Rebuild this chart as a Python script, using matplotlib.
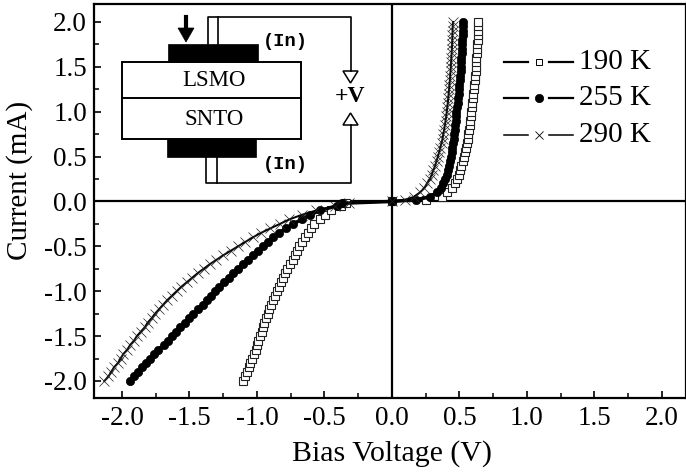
import matplotlib
matplotlib.use('Agg')
import matplotlib.pyplot as plt
from matplotlib.patches import Rectangle, Polygon

plt.rcParams['font.family'] = ['Liberation Serif', 'DejaVu Serif']
plt.rcParams['axes.unicode_minus'] = False

# current levels (mA), same for all three temperatures
current = [-2.0, -1.95, -1.9, -1.85, -1.8, -1.75, -1.7, -1.65, -1.6, -1.55, -1.5, -1.45, -1.4, -1.35,
           -1.3, -1.25, -1.2, -1.15, -1.1, -1.05, -1.0, -0.95, -0.9, -0.85, -0.8, -0.75, -0.7, -0.65,
           -0.6, -0.55, -0.5, -0.45, -0.4, -0.35, -0.3, -0.25, -0.2, -0.15, -0.1, -0.05, -0.02, 0.0,
           0.02, 0.05, 0.1, 0.15, 0.2, 0.25, 0.3, 0.35, 0.4, 0.45, 0.5, 0.55, 0.6, 0.65, 0.7, 0.75,
           0.8, 0.85, 0.9, 0.95, 1.0, 1.05, 1.1, 1.15, 1.2, 1.25, 1.3, 1.35, 1.4, 1.45, 1.5, 1.55,
           1.6, 1.65, 1.7, 1.75, 1.8, 1.85, 1.9, 1.95, 2.0]

v_190 = [-1.10, -1.09, -1.075, -1.06, -1.05, -1.035, -1.025, -1.01, -1.0, -0.99, -0.975, -0.965, -0.955, -0.945,
         -0.93, -0.92, -0.91, -0.895, -0.88, -0.87, -0.855, -0.84, -0.825, -0.81, -0.795, -0.775, -0.755, -0.735,
         -0.715, -0.70, -0.685, -0.665, -0.645, -0.625, -0.60, -0.575, -0.535, -0.495, -0.45, -0.38, -0.34, 0.0,
         0.25, 0.37, 0.41, 0.445, 0.465, 0.485, 0.497, 0.505, 0.515, 0.525, 0.532, 0.54, 0.548, 0.555, 0.56, 0.565,
         0.57, 0.575, 0.58, 0.585, 0.588, 0.592, 0.596, 0.6, 0.603, 0.607, 0.61, 0.613, 0.616, 0.619, 0.621, 0.624,
         0.626, 0.628, 0.63, 0.632, 0.634, 0.636, 0.638, 0.639, 0.641]
v_255 = [-1.94, -1.91, -1.88, -1.85, -1.82, -1.79, -1.76, -1.73, -1.69, -1.66, -1.63, -1.60, -1.57, -1.535,
         -1.50, -1.47, -1.435, -1.40, -1.37, -1.34, -1.31, -1.28, -1.245, -1.21, -1.175, -1.14, -1.10, -1.07,
         -1.03, -0.99, -0.955, -0.92, -0.88, -0.835, -0.785, -0.73, -0.67, -0.61, -0.53, -0.41, -0.37, 0.0,
         0.18, 0.28, 0.33, 0.36, 0.38, 0.395, 0.405, 0.415, 0.423, 0.43, 0.436, 0.442, 0.447, 0.452, 0.456, 0.46,
         0.464, 0.467, 0.471, 0.474, 0.477, 0.483, 0.487, 0.49, 0.494, 0.497, 0.5, 0.503, 0.505, 0.508, 0.51, 0.512,
         0.514, 0.516, 0.518, 0.52, 0.522, 0.523, 0.525, 0.526, 0.528]
v_290 = [-2.13, -2.10, -2.08, -2.06, -2.03, -2.01, -1.99, -1.96, -1.94, -1.91, -1.89, -1.86, -1.83, -1.81,
         -1.78, -1.755, -1.725, -1.695, -1.665, -1.63, -1.595, -1.56, -1.52, -1.48, -1.44, -1.395, -1.35, -1.30,
         -1.25, -1.195, -1.14, -1.085, -1.03, -0.97, -0.90, -0.83, -0.76, -0.67, -0.56, -0.42, -0.32, 0.0,
         0.10, 0.16, 0.207, 0.24, 0.26, 0.28, 0.295, 0.307, 0.32, 0.33, 0.34, 0.35, 0.358, 0.367, 0.375, 0.38,
         0.387, 0.392, 0.397, 0.402, 0.406, 0.41, 0.414, 0.417, 0.42, 0.423, 0.426, 0.429, 0.431, 0.434, 0.436, 0.438,
         0.44, 0.442, 0.444, 0.445, 0.447, 0.448, 0.449, 0.45, 0.452]

labels = ['190 K', '255 K', '290 K']
ticks = [-2.0, -1.5, -1.0, -0.5, 0.0, 0.5, 1.0, 1.5, 2.0]
minor = [-1.75, -1.25, -0.75, -0.25, 0.25, 0.75, 1.25, 1.75]

W, H = 686, 473
fig = plt.figure(figsize=(W/100, H/100), dpi=100)
ax = fig.add_axes([94/W, 1-398/H, 592/W, 394/H])

ax.plot(v_190, current, color='k', lw=0.8, ls='none', marker='s', ms=5.5, mfc='white', mec='#222222', mew=0.8)
ax.plot(v_255, current, color='k', lw=2.5, marker='o', ms=6, mfc='k', mec='k', mew=0.5)
ax.plot(v_290, current, color='k', lw=1.4, marker='x', ms=7, mec='#222222', mew=0.5)

ax.axhline(0, color='k', lw=1.6, zorder=1)
ax.axvline(0, color='k', lw=1.6, zorder=1)

ax.set_xlim(-2.207, 2.178)
ax.set_ylim(-2.19, 2.2)
ax.set_xticks(ticks)
ax.set_yticks(ticks)
ax.set_xticks(minor, minor=True)
ax.set_yticks(minor, minor=True)
ax.set_xticklabels([f'{t:.1f}' for t in ticks])
ax.set_yticklabels([f'{t:.1f}' for t in ticks])
ax.tick_params(axis='both', which='major', direction='in', length=5, width=1.2, labelsize=19.5)
ax.tick_params(axis='x', which='major', pad=6)
ax.tick_params(axis='y', which='major', pad=5)
ax.tick_params(axis='both', which='minor', direction='in', length=3.5, width=1.1)
ax.set_xlabel('Bias Voltage (V)', fontsize=21.5)
ax.set_ylabel('Current (mA)', fontsize=21)
ax.xaxis.set_label_coords(0.504, -0.107)
ax.yaxis.set_label_coords(-0.103, 0.551)
for s in ax.spines.values():
    s.set_linewidth(1.6)

# overlay in pixel coordinates for the sample sketch and the legend
ov = fig.add_axes([0, 0, 1, 1], facecolor='none')
ov.set_xlim(0, W)
ov.set_ylim(H, 0)
ov.axis('off')

ov.add_patch(Rectangle((122, 62), 179, 77, fc='white', ec='k', lw=1.4))
ov.plot([122, 301], [98.5, 98.5], color='k', lw=1.4)
ov.add_patch(Rectangle((168, 44), 90, 18, fc='k', ec='k', lw=0.5))
ov.add_patch(Rectangle((167, 139), 89, 18, fc='k', ec='k', lw=0.5))

ov.plot([208, 208, 351, 351], [44, 17, 17, 71], color='k', lw=1.2)
ov.plot([218, 218], [17, 44], color='k', lw=1.2)
ov.plot([206, 206, 351, 351], [157, 183, 183, 125], color='k', lw=1.2)
ov.plot([217, 217], [157, 183], color='k', lw=1.2)

ov.add_patch(Polygon([(343, 71), (358, 71), (350.5, 83)], fc='white', ec='k', lw=1.1))
ov.add_patch(Polygon([(343, 125), (358, 125), (350.5, 113)], fc='white', ec='k', lw=1.1))
ov.text(350, 96, '+V', fontsize=17, ha='center', va='center', fontweight='bold')

ov.plot([186, 186], [17, 30], color='k', lw=3)
ov.add_patch(Polygon([(178, 28), (194, 28), (186, 42)], fc='k', ec='k', lw=0.5))

ov.text(214, 81, 'LSMO', fontsize=16.5, ha='center', va='center')
ov.text(214, 119, 'SNTO', fontsize=16.5, ha='center', va='center')
ov.text(285, 41, '(In)', fontsize=13.5, ha='center', va='center', family='Liberation Mono', fontweight='bold')
ov.text(285, 164, '(In)', fontsize=13.5, ha='center', va='center', family='Liberation Mono', fontweight='bold')

# legend keys
styles = [dict(marker='s', ms=4.5, mfc='white', mew=0.7, lw=1.6),
          dict(marker='o', ms=6, mfc='k', mew=0.5, lw=1.6),
          dict(marker='x', ms=6, mfc='k', mew=0.6, lw=1.1)]
for lab, y, st in zip(labels, [62, 98, 135], styles):
    lw = st['lw']
    ov.plot([504, 528], [y, y], color='k', lw=lw)
    ov.plot([549, 573], [y, y], color='k', lw=lw)
    ov.plot([539], [y], color='k', ls='none', marker=st['marker'], ms=st['ms'], mfc=st['mfc'], mec='k', mew=st['mew'])
    ov.text(579, y, lab, fontsize=21, ha='left', va='center')

fig.savefig('out.png', dpi=100)
